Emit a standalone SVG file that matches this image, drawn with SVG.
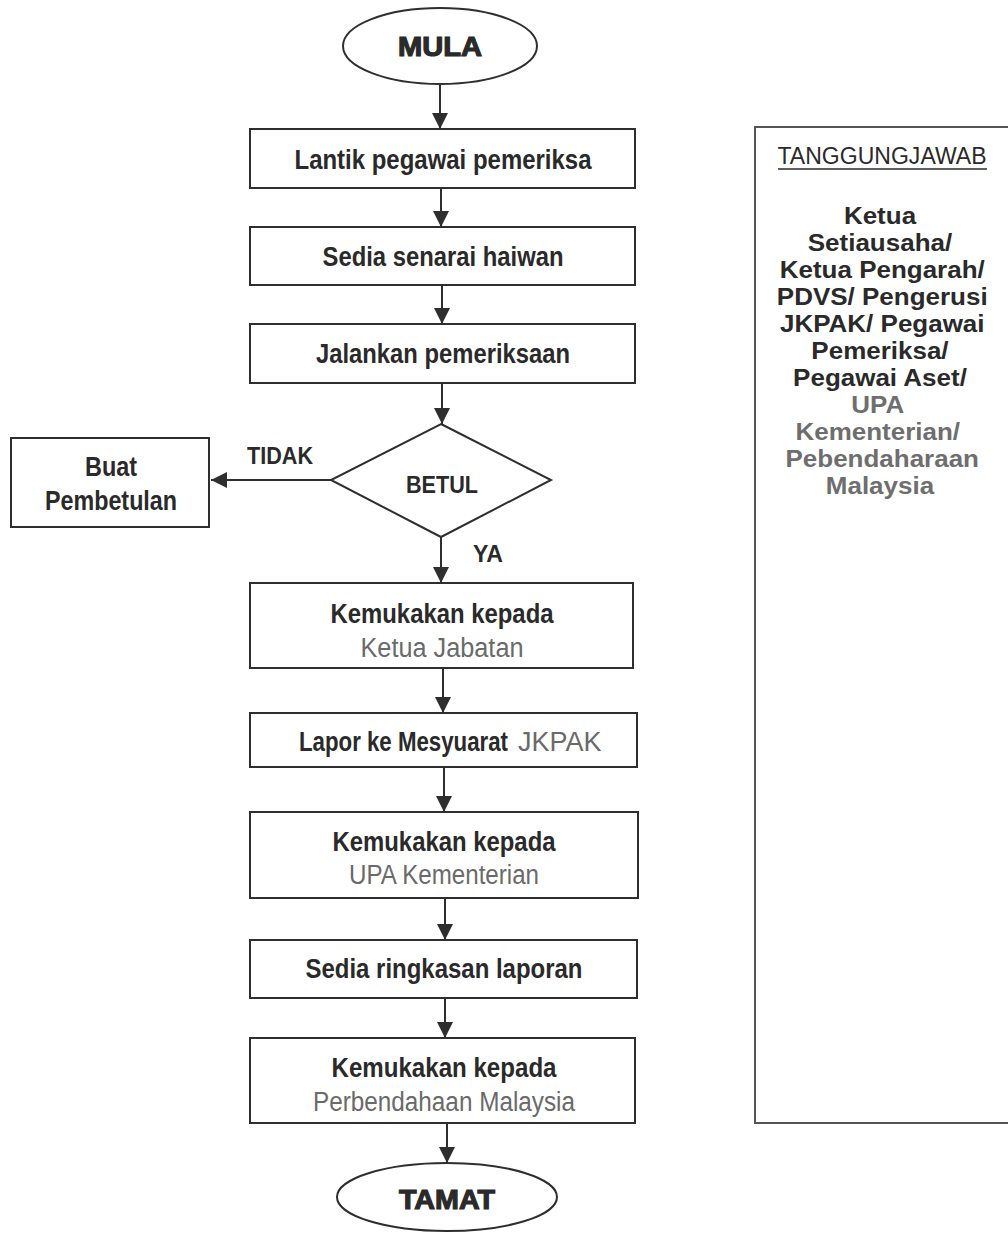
<svg xmlns="http://www.w3.org/2000/svg" width="1008" height="1233" viewBox="0 0 1008 1233">
  <style>
    .shape { fill: #ffffff; stroke: #2e2e2e; stroke-width: 2; }
    .panel { fill: #ffffff; stroke: #555555; stroke-width: 2; }
    .t { font-family: "Liberation Sans", Arial, sans-serif; font-weight: bold; font-size: 28px; fill: #2a2a2a; text-anchor: middle; }
    .g { font-family: "Liberation Sans", Arial, sans-serif; font-weight: normal; font-size: 27px; fill: #6a6a6a; }
    .term { font-family: "Liberation Sans", Arial, sans-serif; font-weight: bold; font-size: 28px; fill: #2a2a2a; stroke: #2a2a2a; stroke-width: 1.2; text-anchor: middle; }
    .lbl { font-family: "Liberation Sans", Arial, sans-serif; font-weight: bold; font-size: 24px; fill: #2a2a2a; text-anchor: middle; }
    .pt { font-family: "Liberation Sans", Arial, sans-serif; font-weight: bold; font-size: 23px; fill: #2a2a2a; text-anchor: middle; }
    .pg { font-family: "Liberation Sans", Arial, sans-serif; font-weight: bold; font-size: 23px; fill: #6e6e6e; text-anchor: middle; }
    .conn { stroke: #2e2e2e; stroke-width: 2; fill: none; marker-end: url(#arrow); }
  </style>
  <defs>
    <marker id="arrow" markerUnits="userSpaceOnUse" markerWidth="16" markerHeight="18" viewBox="0 0 16 18" refX="16" refY="9" orient="auto">
      <path d="M0,1 L16,9 L0,17 Z" fill="#2e2e2e"/>
    </marker>
  </defs>

  <rect width="1008" height="1233" fill="#ffffff"/>

  <!-- responsibility panel (runs off the right edge) -->
  <g id="panel-tanggungjawab">
    <rect class="panel" x="755" y="127" width="300" height="996"/>
    <text x="882" y="164" font-family="Liberation Sans, Arial, sans-serif" font-size="23" fill="#2a2a2a" text-anchor="middle" textLength="209" lengthAdjust="spacingAndGlyphs">TANGGUNGJAWAB</text>
    <line x1="778" y1="169" x2="987" y2="169" stroke="#2a2a2a" stroke-width="1.6"/>
    <!-- lines widened horizontally around the panel centre -->
    <g transform="translate(880,0) scale(1.13,1) translate(-880,0)">
      <text class="pt" x="880" y="224">Ketua</text>
      <text class="pt" x="880" y="251">Setiausaha/</text>
      <text class="pt" x="882" y="278">Ketua Pengarah/</text>
      <text class="pt" x="882" y="305">PDVS/ Pengerusi</text>
      <text class="pt" x="882" y="332">JKPAK/ Pegawai</text>
      <text class="pt" x="880" y="359">Pemeriksa/</text>
      <text class="pt" x="880" y="386">Pegawai Aset/</text>
      <text class="pg" x="878" y="413">UPA</text>
      <text class="pg" x="878" y="440">Kementerian/</text>
      <text class="pg" x="882" y="467">Pebendaharaan</text>
      <text class="pg" x="880" y="494">Malaysia</text>
    </g>
  </g>

  <!-- flow nodes -->
  <g id="mula">
    <ellipse class="shape" cx="440" cy="46" rx="97" ry="38"/>
    <text class="term" x="440" y="56" textLength="84" lengthAdjust="spacingAndGlyphs">MULA</text>
  </g>
  <g id="lantik">
    <rect class="shape" x="250" y="129" width="385" height="59"/>
    <text class="t" x="443" y="169" textLength="297" lengthAdjust="spacingAndGlyphs">Lantik pegawai pemeriksa</text>
  </g>
  <g id="sedia-senarai">
    <rect class="shape" x="250" y="227" width="385" height="58"/>
    <text class="t" x="443" y="266" textLength="241" lengthAdjust="spacingAndGlyphs">Sedia senarai haiwan</text>
  </g>
  <g id="jalankan">
    <rect class="shape" x="250" y="324" width="385" height="59"/>
    <text class="t" x="443" y="363" textLength="254" lengthAdjust="spacingAndGlyphs">Jalankan pemeriksaan</text>
  </g>
  <g id="betul">
    <polygon class="shape" points="441,424 551,480 441,537 331,480"/>
    <text class="lbl" x="442" y="493" textLength="72" lengthAdjust="spacingAndGlyphs">BETUL</text>
  </g>
  <g id="buat-pembetulan">
    <rect class="shape" x="11" y="438" width="198" height="89"/>
    <text class="t" x="111" y="476" textLength="52" lengthAdjust="spacingAndGlyphs">Buat</text>
    <text class="t" x="111" y="510" textLength="132" lengthAdjust="spacingAndGlyphs">Pembetulan</text>
  </g>
  <g id="ketua-jabatan">
    <rect class="shape" x="250" y="583" width="383" height="85"/>
    <text class="t" x="442" y="623" textLength="223" lengthAdjust="spacingAndGlyphs">Kemukakan kepada</text>
    <text class="g" x="442" y="657" text-anchor="middle" textLength="163" lengthAdjust="spacingAndGlyphs">Ketua Jabatan</text>
  </g>
  <g id="lapor-jkpak">
    <rect class="shape" x="250" y="713" width="387" height="54"/>
    <text transform="translate(299,751) scale(0.795,1)" x="0" y="0" font-family="Liberation Sans, Arial, sans-serif" font-weight="bold" font-size="28" fill="#2a2a2a">Lapor ke Mesyuarat</text>
    <text class="g" x="518" y="751">JKPAK</text>
  </g>
  <g id="upa-kementerian">
    <rect class="shape" x="250" y="812" width="388" height="86"/>
    <text class="t" x="444" y="851" textLength="223" lengthAdjust="spacingAndGlyphs">Kemukakan kepada</text>
    <text class="g" x="444" y="884" text-anchor="middle" textLength="190" lengthAdjust="spacingAndGlyphs">UPA Kementerian</text>
  </g>
  <g id="sedia-ringkasan">
    <rect class="shape" x="250" y="940" width="387" height="58"/>
    <text class="t" x="444" y="978" textLength="277" lengthAdjust="spacingAndGlyphs">Sedia ringkasan laporan</text>
  </g>
  <g id="perbendahaan">
    <rect class="shape" x="250" y="1038" width="385" height="85"/>
    <text class="t" x="444" y="1077" textLength="225" lengthAdjust="spacingAndGlyphs">Kemukakan kepada</text>
    <text class="g" x="444" y="1111" text-anchor="middle" textLength="262" lengthAdjust="spacingAndGlyphs">Perbendahaan Malaysia</text>
  </g>
  <g id="tamat">
    <ellipse class="shape" cx="447" cy="1197" rx="110" ry="34"/>
    <text class="term" x="447" y="1209" textLength="96" lengthAdjust="spacingAndGlyphs">TAMAT</text>
  </g>

  <!-- connectors -->
  <g id="connectors">
    <line class="conn" x1="440" y1="84" x2="440" y2="129"/>
    <line class="conn" x1="441" y1="188" x2="441" y2="227"/>
    <line class="conn" x1="442" y1="285" x2="442" y2="324"/>
    <line class="conn" x1="442" y1="383" x2="442" y2="424"/>
    <line class="conn" x1="331" y1="480" x2="211" y2="480"/>
    <line class="conn" x1="441" y1="537" x2="441" y2="583"/>
    <line class="conn" x1="443" y1="668" x2="443" y2="713"/>
    <line class="conn" x1="444" y1="767" x2="444" y2="812"/>
    <line class="conn" x1="445" y1="898" x2="445" y2="940"/>
    <line class="conn" x1="445" y1="998" x2="445" y2="1038"/>
    <line class="conn" x1="447" y1="1123" x2="447" y2="1163"/>
    <text class="lbl" x="280" y="464" textLength="66" lengthAdjust="spacingAndGlyphs">TIDAK</text>
    <text class="lbl" x="488" y="562" textLength="30" lengthAdjust="spacingAndGlyphs">YA</text>
  </g>
</svg>
